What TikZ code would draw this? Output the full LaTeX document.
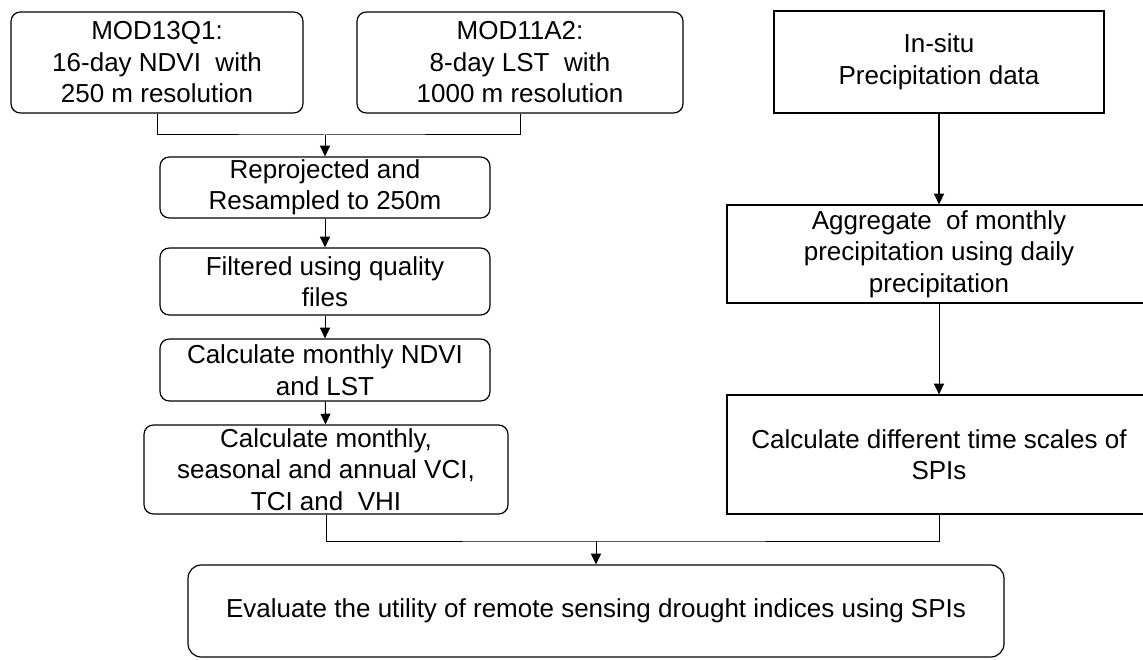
\documentclass[tikz,border=0pt]{standalone}
\usepackage{fontspec}
\setmainfont{Liberation Sans}
\usetikzlibrary{arrows.meta}
\newcommand{\boxfont}{\fontsize{19.5}{23.6}\selectfont}

\tikzset{
  flowbox/.style={draw, line width=0.9pt, rounded corners=7pt, align=center, inner sep=0pt, font=\boxfont},
  databox/.style={draw, line width=0.9pt, align=center, inner sep=0pt, font=\boxfont},
  link/.style={line width=0.75pt},
  flowarrow/.style={link, -{Triangle[width=7.5pt,length=8pt]}}
}

\begin{document}
\begin{tikzpicture}[x=0.75pt,y=-0.75pt]
  \useasboundingbox (0,0) rectangle (1143,660);

  % satellite branch
  \node[flowbox, minimum width=219pt, minimum height=75.75pt] (mod13) at (157,62.5)
    {MOD13Q1:\\16-day NDVI\ \ with\\250 m resolution};
  \node[flowbox, minimum width=244.5pt, minimum height=75.75pt] (mod11) at (520,62.5)
    {MOD11A2:\\8-day LST\ \ with\\1000 m resolution};
  \node[flowbox, minimum width=247.5pt, minimum height=45.75pt] (reproj) at (325,187.5)
    {Reprojected and\\Resampled to 250m};
  \node[flowbox, minimum width=247.5pt, minimum height=50.25pt] (filt) at (325,281.5)
    {Filtered using quality\\files};
  \node[flowbox, minimum width=247.5pt, minimum height=46.5pt] (ndvi) at (325,370)
    {Calculate monthly NDVI\\and LST};
  \node[flowbox, minimum width=273pt, minimum height=66.75pt] (vci) at (326,469.5)
    {Calculate monthly,\\seasonal and annual VCI,\\TCI and\ \ VHI};

  % station branch
  \node[databox, minimum width=247.5pt, minimum height=76.5pt] (insitu) at (939,62)
    {In-situ\\Precipitation data};
  \node[databox, minimum width=318pt, minimum height=73.5pt] (aggr) at (939,254)
    {Aggregate\ \ of monthly\\precipitation using daily\\precipitation};
  \node[databox, minimum width=318pt, minimum height=89.25pt] (spis) at (939,454.5)
    {Calculate different time scales of\\SPIs};

  \node[flowbox, rounded corners=10pt, minimum width=612pt, minimum height=69pt] (eval) at (596,611)
    {Evaluate the utility of remote sensing drought indices using SPIs};

  % connectors
  \coordinate (merge) at (325,135);
  \coordinate (join) at (596,541);
  \draw[link] (mod13.south) |- (merge) -| (mod11.south);
  \draw[flowarrow] (merge) -- (reproj);
  \draw[flowarrow] (reproj) -- (filt);
  \draw[flowarrow] (filt) -- (ndvi);
  \draw[flowarrow] (ndvi) -- (vci);
  \draw[flowarrow, line width=1.1pt] (insitu) -- (aggr);
  \draw[flowarrow] (aggr) -- (spis);
  \draw[link] (vci.south) |- (join) -| (spis.south);
  \draw[flowarrow] (join) -- (eval);
\end{tikzpicture}
\end{document}
